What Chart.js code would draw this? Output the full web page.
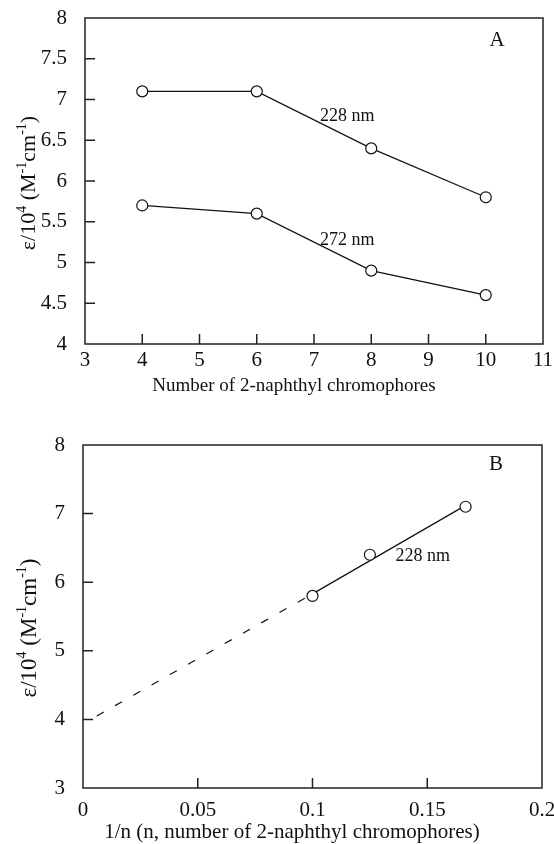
<!DOCTYPE html>
<html>
<head>
<meta charset="utf-8">
<script src="https://cdn.jsdelivr.net/npm/chart.js@4.4.0/dist/chart.umd.min.js"></script>
<style>
  body { margin: 0; background: #fff; }
  canvas { display: block; }
</style>
</head>
<body>
<canvas id="chartA" width="554" height="420"></canvas>
<canvas id="chartB" width="554" height="424"></canvas>
<script>
// panel A: number of chromophores vs epsilon
const chromophores = [4, 6, 8, 10];
const eps228 = [7.1, 7.1, 6.4, 5.8];
const eps272 = [5.7, 5.6, 4.9, 4.6];
const xTicksA = [3, 4, 5, 6, 7, 8, 9, 10, 11];
const yTicksA = [4, 4.5, 5, 5.5, 6, 6.5, 7, 7.5, 8];

// panel B: 1/n vs epsilon at 228 nm
const invN = [0.1, 0.125, 0.1667];
const eps228B = [5.8, 6.4, 7.1];
const fitX = [0.1, 0.1667];
const fitY = [5.83, 7.12];
const extrapX = [0.006, 0.1];
const extrapY = [4.05, 5.83];
const xTicksB = [0, 0.05, 0.1, 0.15, 0.2];
const yTicksB = [3, 4, 5, 6, 7, 8];

const SERIF = '"Liberation Serif", "Times New Roman", serif';
Chart.defaults.font.family = SERIF;
Chart.defaults.color = '#111';

const pts = (xs, ys) => xs.map((x, i) => ({ x: x, y: ys[i] }));

// frame, inward ticks, titles and notes
const decor = {
  id: 'decor',
  afterDatasetsDraw(chart, args, o) {
    const { ctx, chartArea: a, scales: { x, y } } = chart;
    ctx.save();
    ctx.strokeStyle = '#222';
    ctx.lineWidth = 1.5;
    ctx.strokeRect(a.left, a.top, a.right - a.left, a.bottom - a.top);
    ctx.beginPath();
    x.ticks.forEach(t => {
      const px = x.getPixelForValue(t.value);
      if (px > a.left + 2 && px < a.right - 2) { ctx.moveTo(px, a.bottom); ctx.lineTo(px, a.bottom - 10); }
    });
    y.ticks.forEach(t => {
      const py = y.getPixelForValue(t.value);
      if (py > a.top + 2 && py < a.bottom - 2) { ctx.moveTo(a.left, py); ctx.lineTo(a.left + 10, py); }
    });
    ctx.stroke();

    ctx.fillStyle = '#111';
    ctx.textAlign = 'center';
    ctx.textBaseline = 'middle';
    o.notes.forEach(n => {
      ctx.font = n.size + 'px ' + SERIF;
      ctx.fillText(n.text, x.getPixelForValue(n.x), y.getPixelForValue(n.y));
    });

    ctx.font = o.xTitleSize + 'px ' + SERIF;
    ctx.fillText(o.xTitle, o.xTitlePos[0], o.xTitlePos[1]);

    // y title with superscripts, rotated
    const parts = [['\u03b5/10', 0], ['4', 1], [' (M', 0], ['-1', 1], ['cm', 0], ['-1', 1], [')', 0]];
    const big = o.yTitleSize + 'px ' + SERIF, small = Math.round(o.yTitleSize * 0.62) + 'px ' + SERIF;
    let total = 0;
    parts.forEach(p => { ctx.font = p[1] ? small : big; total += ctx.measureText(p[0]).width; });
    ctx.translate(o.yTitlePos[0], o.yTitlePos[1]);
    ctx.rotate(-Math.PI / 2);
    ctx.textAlign = 'left';
    ctx.textBaseline = 'alphabetic';
    let cx = -total / 2;
    parts.forEach(p => {
      ctx.font = p[1] ? small : big;
      ctx.fillText(p[0], cx, p[1] ? -o.yTitleSize * 0.42 : 0);
      cx += ctx.measureText(p[0]).width;
    });
    ctx.restore();
  }
};

// fixed box size; label overhang is covered by layout padding
function fixBox(w, h) {
  return s => {
    if (w) s.width = w;
    if (h) s.height = h;
    s.paddingTop = 0; s.paddingBottom = 0; s.paddingLeft = 0; s.paddingRight = 0;
  };
}

function axis(ticksArr, min, max, pad, extra) {
  return Object.assign({
    type: 'linear',
    min: min,
    max: max,
    grid: { display: false },
    border: { display: false },
    afterBuildTicks: s => { s.ticks = ticksArr.map(v => ({ value: v })); },
    ticks: { font: { size: 21 }, color: '#111', padding: pad, callback: v => String(v) }
  }, extra);
}

const markerStyle = {
  borderColor: '#111',
  borderWidth: 1.2,
  pointRadius: 5.5,
  pointHoverRadius: 5.5,
  pointBorderWidth: 1.2,
  pointBackgroundColor: '#fff',
  pointBorderColor: '#111'
};

new Chart(document.getElementById('chartA'), {
  type: 'scatter',
  data: {
    datasets: [
      Object.assign({ label: '228 nm', data: pts(chromophores, eps228), showLine: true }, markerStyle),
      Object.assign({ label: '272 nm', data: pts(chromophores, eps272), showLine: true }, markerStyle)
    ]
  },
  options: {
    responsive: false,
    animation: false,
    devicePixelRatio: 1,
    layout: { padding: { top: 18, right: 11, left: 0, bottom: 0 } },
    plugins: {
      legend: { display: false },
      tooltip: { enabled: false },
      decor: {
        notes: [
          { text: '228 nm', x: 7.58, y: 6.79, size: 18 },
          { text: '272 nm', x: 7.58, y: 5.27, size: 18 },
          { text: 'A', x: 10.2, y: 7.72, size: 21 }
        ],
        xTitle: 'Number of 2-naphthyl chromophores',
        xTitleSize: 19,
        xTitlePos: [294, 386],
        yTitleSize: 22,
        yTitlePos: [35, 183]
      }
    },
    scales: {
      x: axis(xTicksA, 3, 11, -4, { position: 'bottom', afterFit: fixBox(0, 76) }),
      y: axis(yTicksA, 4, 8, 10, { position: 'left', afterFit: fixBox(85, 0) })
    }
  },
  plugins: [decor]
});

new Chart(document.getElementById('chartB'), {
  type: 'scatter',
  data: {
    datasets: [
      Object.assign({ label: '228 nm', data: pts(invN, eps228B), showLine: false }, markerStyle),
      { label: 'fit', data: pts(fitX, fitY), showLine: true, borderColor: '#111', borderWidth: 1.2, pointRadius: 0 },
      { label: 'extrapolation', data: pts(extrapX, extrapY), showLine: true, borderColor: '#111', borderWidth: 1.2, borderDash: [8, 13], pointRadius: 0 }
    ]
  },
  options: {
    responsive: false,
    animation: false,
    devicePixelRatio: 1,
    layout: { padding: { top: 25, right: 12, left: 0, bottom: 0 } },
    plugins: {
      legend: { display: false },
      tooltip: { enabled: false },
      decor: {
        notes: [
          { text: '228 nm', x: 0.148, y: 6.38, size: 18 },
          { text: 'B', x: 0.18, y: 7.71, size: 21 }
        ],
        xTitle: '1/n (n, number of 2-naphthyl chromophores)',
        xTitleSize: 21,
        xTitlePos: [292, 412],
        yTitleSize: 23,
        yTitlePos: [36, 208]
      }
    },
    scales: {
      x: axis(xTicksB, 0, 0.2, 2, { position: 'bottom', afterFit: fixBox(0, 56) }),
      y: axis(yTicksB, 3, 8, 10, { position: 'left', afterFit: fixBox(83, 0) })
    }
  },
  plugins: [decor]
});
</script>
</body>
</html>
